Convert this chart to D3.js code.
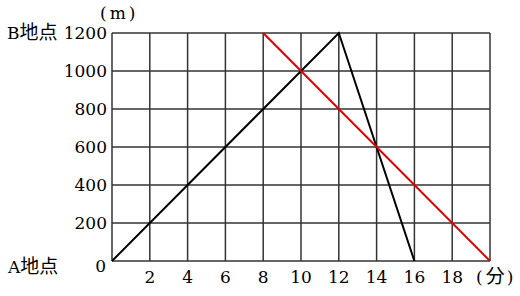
<!DOCTYPE html>
<html>
<head>
<meta charset="utf-8">
<script src="https://d3js.org/d3.v7.min.js"></script>
<style>
  body { margin: 0; background: #fff; }
  text { font-family: "DejaVu Serif", "Liberation Serif", "Noto Sans CJK JP", serif; font-size: 17px; fill: #000; }
  .cjk { font-family: "Noto Sans CJK JP", sans-serif; font-size: 19px; }
</style>
</head>
<body>
<script>
// time (min) and distance (m)
var xTicks = [0, 2, 4, 6, 8, 10, 12, 14, 16, 18, 20];
var yTicks = [0, 200, 400, 600, 800, 1000, 1200];
var xLabels = ["2", "4", "6", "8", "10", "12", "14", "16", "18"];
var blackTime = [0, 12, 16];
var blackDist = [0, 1200, 0];
var redTime = [8, 20];
var redDist = [1200, 0];

var width = 520, height = 296;
var svg = d3.select("body").append("svg")
    .attr("width", width)
    .attr("height", height);

var x = d3.scaleLinear().domain([0, 20]).range([112, 490]);
var y = d3.scaleLinear().domain([0, 1200]).range([261, 33]);

// grid
svg.selectAll(".vl").data(xTicks).enter().append("line")
    .attr("x1", function(d) { return x(d); })
    .attr("x2", function(d) { return x(d); })
    .attr("y1", y(0)).attr("y2", y(1200))
    .attr("stroke", "#333").attr("stroke-width", 1.5);
svg.selectAll(".hl").data(yTicks).enter().append("line")
    .attr("y1", function(d) { return y(d); })
    .attr("y2", function(d) { return y(d); })
    .attr("x1", x(0)).attr("x2", x(20))
    .attr("stroke", "#333").attr("stroke-width", 1.5);

// y labels
svg.selectAll(".yl").data(yTicks.filter(function(d) { return d > 0; })).enter().append("text")
    .attr("x", 107)
    .attr("y", function(d) { return y(d) + 6; })
    .attr("text-anchor", "end")
    .text(function(d) { return d; });
svg.append("text").attr("x", 106).attr("y", 272).attr("text-anchor", "end").text("0");

var b = svg.append("text").attr("x", 7).attr("y", 39);
b.append("tspan").text("B");
b.append("tspan").attr("class", "cjk").text("地点");
var a = svg.append("text").attr("x", 8).attr("y", 273);
a.append("tspan").text("A");
a.append("tspan").attr("class", "cjk").text("地点");
svg.append("text").attr("x", 100).attr("y", 19).style("letter-spacing", "3px").text("(m)");

// x labels
svg.selectAll(".xl").data(xLabels).enter().append("text")
    .attr("x", function(d) { return x(+d); })
    .attr("y", 283)
    .attr("text-anchor", "middle")
    .text(function(d) { return d; });
var u = svg.append("text").attr("x", 476).attr("y", 283);
u.append("tspan").text("(");
u.append("tspan").attr("class", "cjk").attr("dx", 3).text("分");
u.append("tspan").attr("dx", 2).text(")");

var line = d3.line()
    .x(function(d) { return x(d[0]); })
    .y(function(d) { return y(d[1]); });

svg.append("path")
    .attr("d", line(d3.zip(blackTime, blackDist)))
    .attr("fill", "none").attr("stroke", "#000").attr("stroke-width", 2);
svg.append("path")
    .attr("d", line(d3.zip(redTime, redDist)))
    .attr("fill", "none").attr("stroke", "#e00000").attr("stroke-width", 2);
</script>
</body>
</html>
